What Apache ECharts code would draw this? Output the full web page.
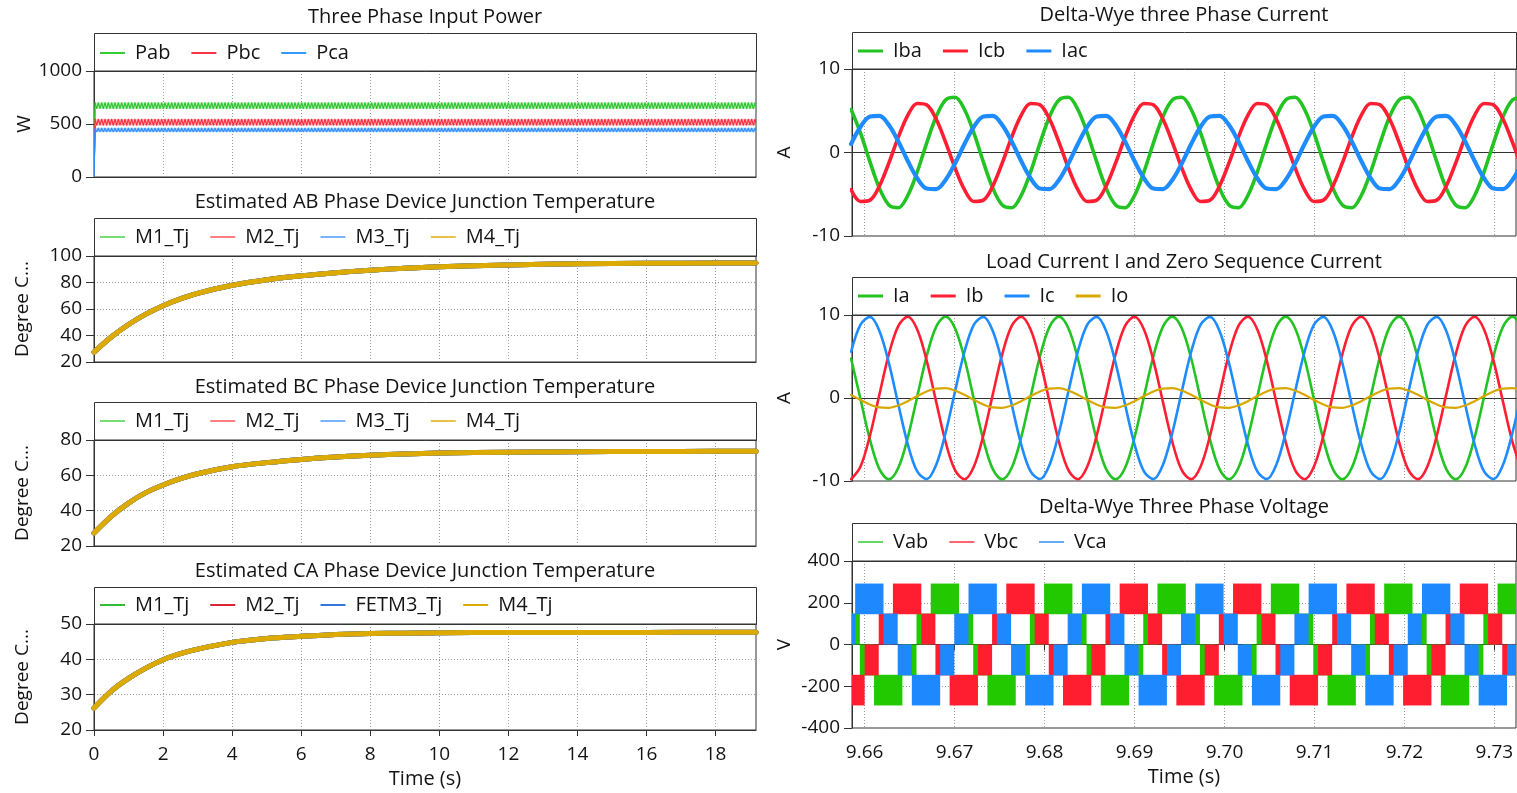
<!DOCTYPE html>
<html>
<head>
<meta charset="utf-8">
<script src="https://cdn.jsdelivr.net/npm/echarts@6/dist/echarts.min.js"></script>
<style>
  html, body { margin: 0; padding: 0; background: #ffffff; }
  #chart { width: 1517px; height: 793px; }
</style>
</head>
<body>
<div id="chart"></div>
<script>
// ---------------- data ----------------
// long run (0 .. 19.17 s)
const timeTicks = [0, 2, 4, 6, 8, 10, 12, 14, 16, 18];
const powerTime = [0, 0.03, 19.17];
const pabMin = [0, 641, 641];
const pabMax = [0, 706, 706];
const pbcMin = [0, 484, 484];
const pbcMax = [0, 550, 550];
const pcaMin = [0, 422, 422];
const pcaMax = [0, 466, 466];

const tempTime = [0, 0.5, 1, 1.5, 2, 2.5, 3, 4, 5, 6, 7, 8, 9, 10, 12, 14, 16, 18, 19.17];
const abJunctionTemp = [27.5, 38.9, 48.3, 56.1, 62.5, 67.6, 71.8, 77.9, 82.1, 85.0, 87.4, 89.3, 90.8, 91.9, 93.3, 94.1, 94.5, 94.7, 94.8];
const bcJunctionTemp = [27.4, 36.8, 44.3, 50.2, 54.5, 58.1, 60.9, 64.9, 67.2, 69.0, 70.4, 71.4, 72.1, 72.6, 73.1, 73.4, 73.5, 73.6, 73.6];
const caJunctionTemp = [26.2, 31.0, 34.6, 37.5, 39.9, 41.6, 42.9, 44.8, 45.9, 46.5, 47.0, 47.3, 47.4, 47.5, 47.6, 47.6, 47.6, 47.7, 47.7];

// zoomed window (9.6586 .. 9.7324 s)
const zoomTicks = [9.66, 9.67, 9.68, 9.69, 9.70, 9.71, 9.72, 9.73];
const currentTime = [
  9.6585, 9.65955, 9.6606, 9.66165, 9.6627, 9.66375, 9.6648, 9.66585, 9.6669, 9.66795, 9.669, 9.67005,
  9.6711, 9.67215, 9.6732, 9.67425, 9.6753, 9.67635, 9.6774, 9.67845, 9.6795, 9.68055, 9.6816, 9.68265,
  9.6837, 9.68475, 9.6858, 9.68685, 9.6879, 9.68895, 9.69, 9.69105, 9.6921, 9.69315, 9.6942, 9.69525,
  9.6963, 9.69735, 9.6984, 9.69945, 9.7005, 9.70155, 9.7026, 9.70365, 9.7047, 9.70575, 9.7068, 9.70785,
  9.7089, 9.70995, 9.711, 9.71205, 9.7131, 9.71415, 9.7152, 9.71625, 9.7173, 9.71835, 9.7194, 9.72045,
  9.7215, 9.72255, 9.7236, 9.72465, 9.7257, 9.72675, 9.7278, 9.72885, 9.7299, 9.73095, 9.732, 9.73305
];
const iba = [
  5.15, 2.32, -1.13, -4.28, -6.28, -6.61, -5.15, -2.32, 1.13, 4.28, 6.28, 6.61,
  5.15, 2.32, -1.13, -4.28, -6.28, -6.61, -5.15, -2.32, 1.13, 4.28, 6.28, 6.61,
  5.15, 2.32, -1.13, -4.28, -6.28, -6.61, -5.15, -2.32, 1.13, 4.28, 6.28, 6.61,
  5.15, 2.32, -1.13, -4.28, -6.28, -6.61, -5.15, -2.32, 1.13, 4.28, 6.28, 6.61,
  5.15, 2.32, -1.13, -4.28, -6.28, -6.61, -5.15, -2.32, 1.13, 4.28, 6.28, 6.61,
  5.15, 2.32, -1.13, -4.28, -6.28, -6.61, -5.15, -2.32, 1.13, 4.28, 6.28, 6.61
];
const icb = [
  -4.46, -5.87, -5.71, -4.01, -1.25, 1.85, 4.46, 5.87, 5.71, 4.01, 1.25, -1.85,
  -4.46, -5.87, -5.71, -4.01, -1.25, 1.85, 4.46, 5.87, 5.71, 4.01, 1.25, -1.85,
  -4.46, -5.87, -5.71, -4.01, -1.25, 1.85, 4.46, 5.87, 5.71, 4.01, 1.25, -1.85,
  -4.46, -5.87, -5.71, -4.01, -1.25, 1.85, 4.46, 5.87, 5.71, 4.01, 1.25, -1.85,
  -4.46, -5.87, -5.71, -4.01, -1.25, 1.85, 4.46, 5.87, 5.71, 4.01, 1.25, -1.85,
  -4.46, -5.87, -5.71, -4.01, -1.25, 1.85, 4.46, 5.87, 5.71, 4.01, 1.25, -1.85
];
const iac = [
  1.02, 3.08, 4.31, 4.38, 3.29, 1.31, -1.02, -3.08, -4.31, -4.38, -3.29, -1.31,
  1.02, 3.08, 4.31, 4.38, 3.29, 1.31, -1.02, -3.08, -4.31, -4.38, -3.29, -1.31,
  1.02, 3.08, 4.31, 4.38, 3.29, 1.31, -1.02, -3.08, -4.31, -4.38, -3.29, -1.31,
  1.02, 3.08, 4.31, 4.38, 3.29, 1.31, -1.02, -3.08, -4.31, -4.38, -3.29, -1.31,
  1.02, 3.08, 4.31, 4.38, 3.29, 1.31, -1.02, -3.08, -4.31, -4.38, -3.29, -1.31,
  1.02, 3.08, 4.31, 4.38, 3.29, 1.31, -1.02, -3.08, -4.31, -4.38, -3.29, -1.31
];
const ia = [
  4.76, -0.16, -5.04, -8.57, -9.80, -8.41, -4.76, 0.16, 5.04, 8.57, 9.80, 8.41,
  4.76, -0.16, -5.04, -8.57, -9.80, -8.41, -4.76, 0.16, 5.04, 8.57, 9.80, 8.41,
  4.76, -0.16, -5.04, -8.57, -9.80, -8.41, -4.76, 0.16, 5.04, 8.57, 9.80, 8.41,
  4.76, -0.16, -5.04, -8.57, -9.80, -8.41, -4.76, 0.16, 5.04, 8.57, 9.80, 8.41,
  4.76, -0.16, -5.04, -8.57, -9.80, -8.41, -4.76, 0.16, 5.04, 8.57, 9.80, 8.41,
  4.76, -0.16, -5.04, -8.57, -9.80, -8.41, -4.76, 0.16, 5.04, 8.57, 9.80, 8.41
];
const ib = [
  -9.79, -8.26, -4.51, 0.44, 5.28, 8.70, 9.79, 8.26, 4.51, -0.44, -5.28, -8.70,
  -9.79, -8.26, -4.51, 0.44, 5.28, 8.70, 9.79, 8.26, 4.51, -0.44, -5.28, -8.70,
  -9.79, -8.26, -4.51, 0.44, 5.28, 8.70, 9.79, 8.26, 4.51, -0.44, -5.28, -8.70,
  -9.79, -8.26, -4.51, 0.44, 5.28, 8.70, 9.79, 8.26, 4.51, -0.44, -5.28, -8.70,
  -9.79, -8.26, -4.51, 0.44, 5.28, 8.70, 9.79, 8.26, 4.51, -0.44, -5.28, -8.70,
  -9.79, -8.26, -4.51, 0.44, 5.28, 8.70, 9.79, 8.26, 4.51, -0.44, -5.28, -8.70
];
const ic = [
  5.57, 8.85, 9.77, 8.07, 4.20, -0.78, -5.57, -8.85, -9.77, -8.07, -4.20, 0.78,
  5.57, 8.85, 9.77, 8.07, 4.20, -0.78, -5.57, -8.85, -9.77, -8.07, -4.20, 0.78,
  5.57, 8.85, 9.77, 8.07, 4.20, -0.78, -5.57, -8.85, -9.77, -8.07, -4.20, 0.78,
  5.57, 8.85, 9.77, 8.07, 4.20, -0.78, -5.57, -8.85, -9.77, -8.07, -4.20, 0.78,
  5.57, 8.85, 9.77, 8.07, 4.20, -0.78, -5.57, -8.85, -9.77, -8.07, -4.20, 0.78,
  5.57, 8.85, 9.77, 8.07, 4.20, -0.78, -5.57, -8.85, -9.77, -8.07, -4.20, 0.78
];
const io = [
  0.38, -0.24, -0.79, -1.14, -1.18, -0.90, -0.38, 0.24, 0.79, 1.14, 1.18, 0.90,
  0.38, -0.24, -0.79, -1.14, -1.18, -0.90, -0.38, 0.24, 0.79, 1.14, 1.18, 0.90,
  0.38, -0.24, -0.79, -1.14, -1.18, -0.90, -0.38, 0.24, 0.79, 1.14, 1.18, 0.90,
  0.38, -0.24, -0.79, -1.14, -1.18, -0.90, -0.38, 0.24, 0.79, 1.14, 1.18, 0.90,
  0.38, -0.24, -0.79, -1.14, -1.18, -0.90, -0.38, 0.24, 0.79, 1.14, 1.18, 0.90,
  0.38, -0.24, -0.79, -1.14, -1.18, -0.90, -0.38, 0.24, 0.79, 1.14, 1.18, 0.90
];

// switched line voltages: [start s, end s, lower V, upper V] of each PWM band
const vabBands = [
  [9.65790, 9.65947, 0, 148], [9.65947, 9.66105, -148, 0], [9.66105, 9.66420, -292, -145],
  [9.66420, 9.66577, -148, 0], [9.66577, 9.66735, 0, 148], [9.66735, 9.67050, 145, 292],
  [9.67050, 9.67207, 0, 148], [9.67207, 9.67365, -148, 0], [9.67365, 9.67680, -292, -145],
  [9.67680, 9.67837, -148, 0], [9.67837, 9.67995, 0, 148], [9.67995, 9.68310, 145, 292],
  [9.68310, 9.68467, 0, 148], [9.68467, 9.68625, -148, 0], [9.68625, 9.68940, -292, -145],
  [9.68940, 9.69097, -148, 0], [9.69097, 9.69255, 0, 148], [9.69255, 9.69570, 145, 292],
  [9.69570, 9.69727, 0, 148], [9.69727, 9.69885, -148, 0], [9.69885, 9.70200, -292, -145],
  [9.70200, 9.70357, -148, 0], [9.70357, 9.70515, 0, 148], [9.70515, 9.70830, 145, 292],
  [9.70830, 9.70987, 0, 148], [9.70987, 9.71145, -148, 0], [9.71145, 9.71460, -292, -145],
  [9.71460, 9.71617, -148, 0], [9.71617, 9.71775, 0, 148], [9.71775, 9.72090, 145, 292],
  [9.72090, 9.72247, 0, 148], [9.72247, 9.72405, -148, 0], [9.72405, 9.72720, -292, -145],
  [9.72720, 9.72877, -148, 0], [9.72877, 9.73035, 0, 148], [9.73035, 9.73350, 145, 292]
];
const vbcBands = [
  [9.65685, 9.66000, -292, -145], [9.66000, 9.66157, -148, 0], [9.66157, 9.66315, 0, 148],
  [9.66315, 9.66630, 145, 292], [9.66630, 9.66787, 0, 148], [9.66787, 9.66945, -148, 0],
  [9.66945, 9.67260, -292, -145], [9.67260, 9.67417, -148, 0], [9.67417, 9.67575, 0, 148],
  [9.67575, 9.67890, 145, 292], [9.67890, 9.68047, 0, 148], [9.68047, 9.68205, -148, 0],
  [9.68205, 9.68520, -292, -145], [9.68520, 9.68677, -148, 0], [9.68677, 9.68835, 0, 148],
  [9.68835, 9.69150, 145, 292], [9.69150, 9.69307, 0, 148], [9.69307, 9.69465, -148, 0],
  [9.69465, 9.69780, -292, -145], [9.69780, 9.69937, -148, 0], [9.69937, 9.70095, 0, 148],
  [9.70095, 9.70410, 145, 292], [9.70410, 9.70567, 0, 148], [9.70567, 9.70725, -148, 0],
  [9.70725, 9.71040, -292, -145], [9.71040, 9.71197, -148, 0], [9.71197, 9.71355, 0, 148],
  [9.71355, 9.71670, 145, 292], [9.71670, 9.71827, 0, 148], [9.71827, 9.71985, -148, 0],
  [9.71985, 9.72300, -292, -145], [9.72300, 9.72457, -148, 0], [9.72457, 9.72615, 0, 148],
  [9.72615, 9.72930, 145, 292], [9.72930, 9.73087, 0, 148], [9.73087, 9.73245, -148, 0]
];
const vcaBands = [
  [9.65737, 9.65895, 0, 148], [9.65895, 9.66210, 145, 292], [9.66210, 9.66368, 0, 148],
  [9.66368, 9.66525, -148, 0], [9.66525, 9.66840, -292, -145], [9.66840, 9.66997, -148, 0],
  [9.66997, 9.67155, 0, 148], [9.67155, 9.67470, 145, 292], [9.67470, 9.67628, 0, 148],
  [9.67628, 9.67785, -148, 0], [9.67785, 9.68100, -292, -145], [9.68100, 9.68257, -148, 0],
  [9.68257, 9.68415, 0, 148], [9.68415, 9.68730, 145, 292], [9.68730, 9.68888, 0, 148],
  [9.68888, 9.69045, -148, 0], [9.69045, 9.69360, -292, -145], [9.69360, 9.69517, -148, 0],
  [9.69517, 9.69675, 0, 148], [9.69675, 9.69990, 145, 292], [9.69990, 9.70148, 0, 148],
  [9.70148, 9.70305, -148, 0], [9.70305, 9.70620, -292, -145], [9.70620, 9.70777, -148, 0],
  [9.70777, 9.70935, 0, 148], [9.70935, 9.71250, 145, 292], [9.71250, 9.71408, 0, 148],
  [9.71408, 9.71565, -148, 0], [9.71565, 9.71880, -292, -145], [9.71880, 9.72037, -148, 0],
  [9.72037, 9.72195, 0, 148], [9.72195, 9.72510, 145, 292], [9.72510, 9.72668, 0, 148],
  [9.72668, 9.72825, -148, 0], [9.72825, 9.73140, -292, -145], [9.73140, 9.73297, -148, 0]
];

// ---------------- styling / layout ----------------
const FONT = 'Open Sans';
const INK = '#141414';
const FRAME = '#333333';
const DOTS = '#9a9a9a';
const GREEN = '#22c322', RED = '#ff1e32', BLUE = '#1e8cff', GOLD = '#dcaa00';

const LX = 94, LW = 662, RX = 852, RW = 664;
const panels = [
  { x: LX, w: LW, boxTop: 33,  top: 71,  h: 106, titleY: 17,  legendY: 53,  title: 'Three Phase Input Power' },
  { x: LX, w: LW, boxTop: 218, top: 256, h: 106, titleY: 202, legendY: 237, title: 'Estimated AB Phase Device Junction Temperature' },
  { x: LX, w: LW, boxTop: 402, top: 440, h: 106, titleY: 387, legendY: 421, title: 'Estimated BC Phase Device Junction Temperature' },
  { x: LX, w: LW, boxTop: 587, top: 624, h: 106, titleY: 571, legendY: 605, title: 'Estimated CA Phase Device Junction Temperature' },
  { x: RX, w: RW, boxTop: 32,  top: 69,  h: 167, titleY: 15,  legendY: 51,  title: 'Delta-Wye three Phase Current' },
  { x: RX, w: RW, boxTop: 277, top: 315, h: 166, titleY: 262, legendY: 296, title: 'Load Current I and Zero Sequence Current' },
  { x: RX, w: RW, boxTop: 523, top: 561, h: 167, titleY: 507, legendY: 542, title: 'Delta-Wye Three Phase Voltage' }
];
const yScales = [
  { min: 0, max: 1000, interval: 500, name: 'W', gap: 60 },
  { min: 20, max: 100, interval: 20, name: 'Degree C...', gap: 62 },
  { min: 20, max: 80, interval: 20, name: 'Degree C...', gap: 62 },
  { min: 20, max: 50, interval: 10, name: 'Degree C...', gap: 62 },
  { min: -10, max: 10, interval: 10, name: 'A', gap: 58 },
  { min: -10, max: 10, interval: 10, name: 'A', gap: 58 },
  { min: -400, max: 400, interval: 200, name: 'V', gap: 58 }
];

const dotted = { show: true, lineStyle: { color: DOTS, width: 1, type: [1, 2] } };
const labelFont = { fontFamily: FONT, fontSize: 19, color: INK };

const grids = panels.map(p => ({ left: p.x, top: p.top, width: p.w, height: p.h, show: true,
  borderColor: FRAME, borderWidth: 1, backgroundColor: 'transparent', containLabel: false }));

const xAxes = panels.map((p, i) => {
  const right = i >= 4;
  const bottom = i === 3 || i === 6;
  const ticks = right ? zoomTicks : timeTicks;
  return {
    type: 'value', gridIndex: i,
    min: right ? 9.6586 : 0, max: right ? 9.7324 : 19.17,
    axisLine: { show: true, lineStyle: { color: FRAME } },
    axisTick: { show: bottom, length: 6, customValues: ticks, lineStyle: { color: FRAME } },
    axisLabel: Object.assign({ show: bottom, margin: 15, customValues: ticks,
      formatter: v => right ? v.toFixed(2) : String(v) }, labelFont),
    splitLine: dotted,
    name: bottom ? 'Time (s)' : '', nameLocation: 'middle', nameGap: 39,
    nameTextStyle: { fontFamily: FONT, fontSize: 20, color: INK }
  };
});

const yAxes = yScales.map((s, i) => ({
  type: 'value', gridIndex: i, min: s.min, max: s.max, interval: s.interval,
  axisLine: { show: true, lineStyle: { color: FRAME } },
  axisTick: { show: true, length: 8, lineStyle: { color: FRAME } },
  axisLabel: Object.assign({ margin: 12, formatter: v => String(v) }, labelFont),
  splitLine: dotted,
  name: s.name, nameLocation: 'middle', nameRotate: 90, nameGap: s.gap,
  nameTextStyle: { fontFamily: FONT, fontSize: 19, color: INK }
}));

function legendFor(i, items, thick) {
  const p = panels[i];
  return {
    left: p.x + 6, top: p.legendY - 10, padding: 0, orient: 'horizontal',
    itemWidth: 25, itemHeight: thick, itemGap: 21, icon: 'rect', selectedMode: false,
    textStyle: { fontFamily: FONT, fontSize: 20, color: INK, lineHeight: 20, padding: [0, 0, 0, 5] },
    data: items.map(it => ({ name: it[0], itemStyle: { color: it[1] } }))
  };
}

// fine zig-zag texture used to paint a fast ripple between its envelopes
function zigzagFill(color, tint, topPx, heightPx) {
  const h = Math.max(2, Math.round(heightPx));
  const cv = document.createElement('canvas');
  cv.width = 10; cv.height = h + 2;
  const ctx = cv.getContext('2d');
  ctx.fillStyle = tint;
  ctx.fillRect(0, 1, 10, h);
  ctx.strokeStyle = color; ctx.lineWidth = 1.15;
  ctx.beginPath();
  for (let k = 0; k <= 6; k++) {
    const x = k * 10 / 6, y = (k % 2 === 0) ? h + 0.5 : 1.5;
    if (k === 0) ctx.moveTo(x, y); else ctx.lineTo(x, y);
  }
  ctx.stroke();
  return { image: cv, repeat: 'repeat-x', x: 0, y: topPx - 1 };
}

// envelope of a fast ripple signal, drawn as a textured band
function bandSeries(name, idx, times, lo, hi, color, tint) {
  return {
    type: 'custom', name, xAxisIndex: idx, yAxisIndex: idx, clip: true,
    itemStyle: { color },
    data: times.map((t, k) => [t, lo[k], hi[k]]),
    encode: { x: 0, y: [1, 2] },
    renderItem(params, api) {
      const k = params.dataIndex;
      if (k >= times.length - 1) return null;
      const a0 = api.coord([times[k], hi[k]]), a1 = api.coord([times[k + 1], hi[k + 1]]);
      const b0 = api.coord([times[k], lo[k]]), b1 = api.coord([times[k + 1], lo[k + 1]]);
      const flat = hi[k] === hi[k + 1] && lo[k] === lo[k + 1];
      if (!flat) {
        return { type: 'group', children: [
          { type: 'polyline', shape: { points: [a0, a1] }, style: { stroke: color, lineWidth: 1.2, fill: null } },
          { type: 'polyline', shape: { points: [b0, b1] }, style: { stroke: color, lineWidth: 1.2, fill: null } }
        ] };
      }
      return { type: 'polygon', shape: { points: [a0, a1, b1, b0] },
        style: { fill: zigzagFill(color, tint, a0[1], b0[1] - a0[1]), stroke: null } };
    }
  };
}

// PWM voltage bands
function pwmSeries(name, idx, bands, color) {
  return {
    type: 'custom', name, xAxisIndex: idx, yAxisIndex: idx, clip: true,
    itemStyle: { color },
    data: bands, encode: { x: [0, 1], y: [2, 3] },
    renderItem(params, api) {
      const p0 = api.coord([api.value(0), api.value(3)]);
      const p1 = api.coord([api.value(1), api.value(2)]);
      return { type: 'rect', shape: { x: p0[0], y: p0[1], width: p1[0] - p0[0], height: p1[1] - p0[1] },
        style: { fill: color } };
    }
  };
}

function lineSeries(name, idx, xs, ys, color, width, smooth) {
  return {
    type: 'line', name, xAxisIndex: idx, yAxisIndex: idx, showSymbol: false, symbol: 'none',
    smooth, animation: false, clip: true,
    data: xs.map((t, k) => [t, ys[k]]),
    itemStyle: { color }, lineStyle: { color, width, cap: 'round', join: 'round' }
  };
}

const series = [
  bandSeries('Pab', 0, powerTime, pabMin, pabMax, '#2cc42c', 'rgba(120,220,120,0.45)'),
  bandSeries('Pbc', 0, powerTime, pbcMin, pbcMax, '#ff2a3c', 'rgba(255,120,130,0.45)'),
  bandSeries('Pca', 0, powerTime, pcaMin, pcaMax, '#2a8cff', 'rgba(110,170,255,0.45)')
];
[[1, abJunctionTemp, 'M3_Tj'], [2, bcJunctionTemp, 'M3_Tj'], [3, caJunctionTemp, 'FETM3_Tj']].forEach(([idx, temps, third]) => {
  series.push(lineSeries('M1_Tj', idx, tempTime, temps, GREEN, 5, 0.3));
  series.push(lineSeries('M2_Tj', idx, tempTime, temps, RED, 5, 0.3));
  series.push(lineSeries(third, idx, tempTime, temps, BLUE, 5, 0.3));
  series.push(lineSeries('M4_Tj', idx, tempTime, temps, GOLD, 5, 0.3));
});
series.push(lineSeries('Iba', 4, currentTime, iba, GREEN, 3.6, 0.34));
series.push(lineSeries('Icb', 4, currentTime, icb, RED, 3.6, 0.34));
series.push(lineSeries('Iac', 4, currentTime, iac, BLUE, 4.2, 0.34));
series.push(lineSeries('Ia', 5, currentTime, ia, GREEN, 2.6, 0.34));
series.push(lineSeries('Ib', 5, currentTime, ib, RED, 2.6, 0.34));
series.push(lineSeries('Ic', 5, currentTime, ic, BLUE, 2.6, 0.34));
series.push(lineSeries('Io', 5, currentTime, io, '#d8a700', 2.2, 0.34));
series.push(pwmSeries('Vab', 6, vabBands, '#22c800'));
series.push(pwmSeries('Vbc', 6, vbcBands, '#ff1e30'));
series.push(pwmSeries('Vca', 6, vcaBands, '#1e88ff'));

const legends = [
  legendFor(0, [['Pab', '#33cc33'], ['Pbc', '#ff3344'], ['Pca', '#3399ff']], 2),
  legendFor(1, [['M1_Tj', '#77dd77'], ['M2_Tj', '#ff8080'], ['M3_Tj', '#7ab4ff'], ['M4_Tj', '#e8c246']], 2),
  legendFor(2, [['M1_Tj', '#77dd77'], ['M2_Tj', '#ff8080'], ['M3_Tj', '#7ab4ff'], ['M4_Tj', '#e8c246']], 2),
  legendFor(3, [['M1_Tj', '#33bb33'], ['M2_Tj', '#dd2233'], ['FETM3_Tj', '#3377dd'], ['M4_Tj', '#ddaa00']], 2),
  legendFor(4, [['Iba', GREEN], ['Icb', RED], ['Iac', BLUE]], 3),
  legendFor(5, [['Ia', GREEN], ['Ib', RED], ['Ic', BLUE], ['Io', '#d8a700']], 3),
  legendFor(6, [['Vab', '#66d866'], ['Vbc', '#ff6670'], ['Vca', '#66aaff']], 2)
];

// panel titles and the frame around each legend strip
const graphics = [];
panels.forEach(p => {
  graphics.push({ type: 'text', x: p.x + p.w / 2, y: p.titleY, z: 10,
    style: { text: p.title, font: '20px "' + FONT + '"', fill: INK, align: 'center', verticalAlign: 'middle' } });
  graphics.push({ type: 'rect', z: 10, silent: true,
    shape: { x: p.x + 0.5, y: p.boxTop + 0.5, width: p.w, height: p.top - p.boxTop },
    style: { fill: null, stroke: FRAME, lineWidth: 1 } });
});

const chart = echarts.init(document.getElementById('chart'), null, { renderer: 'canvas' });
chart.setOption({
  backgroundColor: '#ffffff',
  animation: false,
  textStyle: { fontFamily: FONT },
  grid: grids,
  xAxis: xAxes,
  yAxis: yAxes,
  legend: legends,
  graphic: graphics,
  series
});
</script>
</body>
</html>
